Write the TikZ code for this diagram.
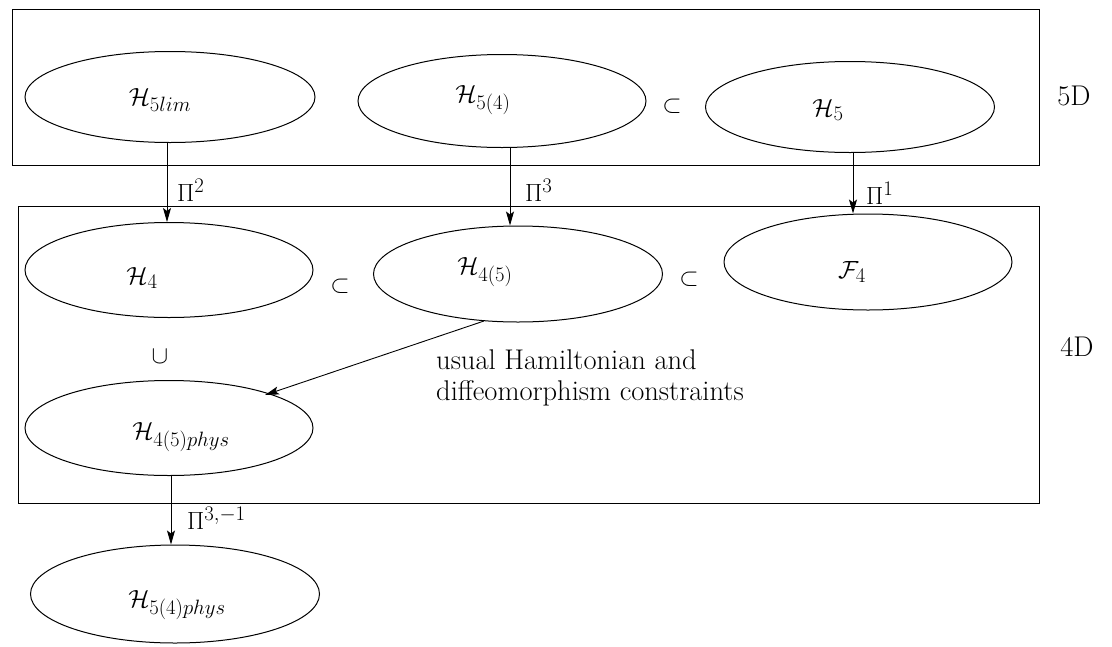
\documentclass[tikz,border=0pt]{standalone}
\usetikzlibrary{shapes.geometric,arrows.meta}
\begin{document}
\begin{tikzpicture}[x=1pt,y=-1pt,
  every node/.style={font=\fontsize{28.5}{31}\selectfont,inner sep=0pt},
  set/.style={draw,ellipse,line width=1pt,inner sep=0pt},
  frame/.style={draw,line width=0.9pt},
  arr/.style={line width=0.9pt,-{Stealth[length=14pt,width=8pt,inset=3pt]}}]
\useasboundingbox (0,0) rectangle (1112,646);
\draw[frame] (12,9) rectangle (1039,165);
\draw[frame] (18,206) rectangle (1039,503);
% ellipses
\node[set,minimum width=290pt,minimum height=91pt] (h5lim) at (170,97) {};
\node[set,minimum width=288pt,minimum height=93pt] (h54) at (502,101) {};
\node[set,minimum width=289pt,minimum height=91pt] (h5) at (850,107) {};
\node[set,minimum width=288pt,minimum height=95pt] (h4) at (169,270) {};
\node[set,minimum width=289pt,minimum height=96pt] (h45) at (518,274) {};
\node[set,minimum width=288pt,minimum height=96pt] (f4) at (868,262) {};
\node[set,minimum width=288pt,minimum height=95pt] (h45p) at (169,428) {};
\node[set,minimum width=289pt,minimum height=98pt] (h54p) at (175,594) {};
% labels
\node (t1) at (160,100) {$\mathcal{H}_{5lim}$};
\node (t2) at (483,100) {$\mathcal{H}_{5(4)}$};
\node (t3) at (828,110) {$\mathcal{H}_{5}$};
\node (t4) at (142,278) {$\mathcal{H}_{4}$};
\node (t5) at (485,272) {$\mathcal{H}_{4(5)}$};
\node (t6) at (852,272) {$\mathcal{F}_{4}$};
\node (t7) at (181,437) {$\mathcal{H}_{4(5)phys}$};
\node (t8) at (177,605) {$\mathcal{H}_{5(4)phys}$};
\node (s1) at (672,106) {$\subset$};
\node (s2) at (340,286) {$\subset$};
\node (s3) at (689,279) {$\subset$};
\node (s4) at (160,357) {$\cup$};
\node (d5) at (1074,96) {5D};
\node (d4) at (1077,347) {4D};
\node[align=left,anchor=north west] (txt) at (436,350) {usual Hamiltonian and\\ diffeomorphism constraints};
% arrows
\draw[arr] (h5lim.south -| 167,0) -- (h4.north -| 167,0);
\draw[arr] (h54.south -| 510,0) -- (h45.north -| 510,0);
\draw[arr] (h5.south -| 853,0) -- (f4.north -| 853,0);
\draw[arr] (484,321) coordinate (a4) -- (265,395) coordinate (b4);
\draw[arr] (h45p.south -| 171,0) -- (h54p.north -| 171,0);
\node[anchor=west] (l1) at (177,190) {$\Pi^2$};
\node[anchor=west] (l2) at (525,190) {$\Pi^3$};
\node[anchor=west] (l3) at (866,193) {$\Pi^1$};
\node[anchor=west] (l4) at (187,518) {$\Pi^{3,-1}$};
\end{tikzpicture}
\end{document}
